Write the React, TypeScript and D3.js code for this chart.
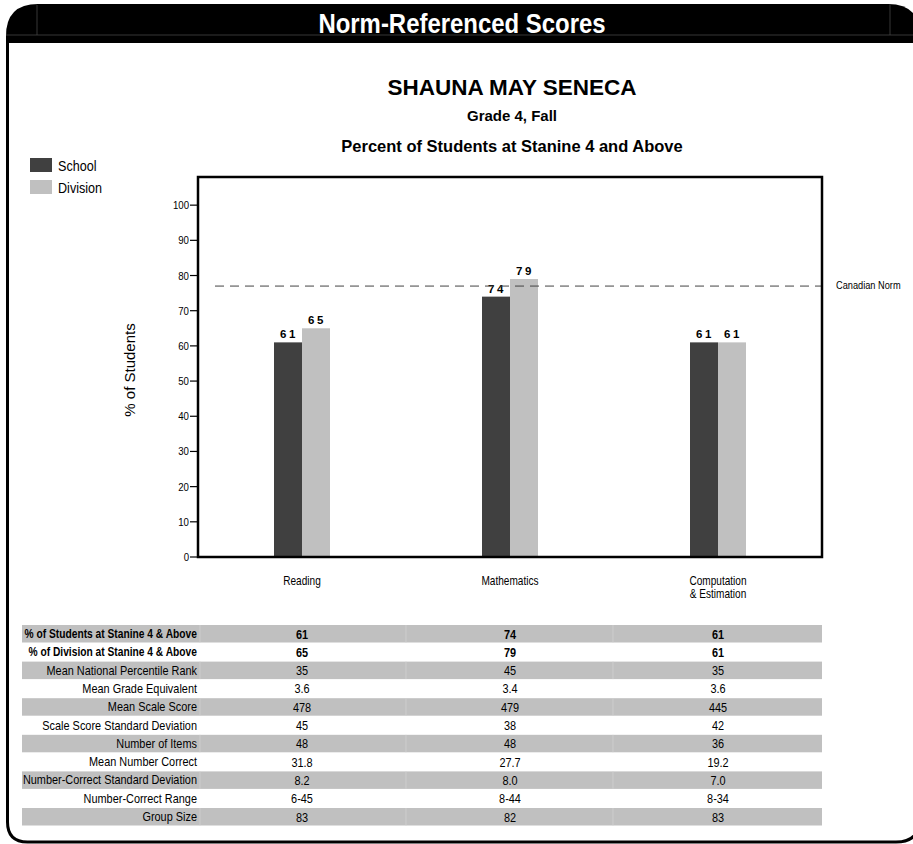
import React from "react";
import * as d3 from "d3";

const categories = ["Reading", "Mathematics", "Computation|& Estimation"];
const seriesNames = ["School", "Division"];
const schoolValues = [61, 74, 61];
const divisionValues = [65, 79, 61];
const canadianNorm = 77;
const yTicks = [0, 10, 20, 30, 40, 50, 60, 70, 80, 90, 100];

const rowLabels = [
  "% of Students at Stanine 4 & Above",
  "% of Division at Stanine 4 & Above",
  "Mean National Percentile Rank",
  "Mean Grade Equivalent",
  "Mean Scale Score",
  "Scale Score Standard Deviation",
  "Number of Items",
  "Mean Number Correct",
  "Number-Correct Standard Deviation",
  "Number-Correct Range",
  "Group Size",
];
const readingColumn = ["61", "65", "35", "3.6", "478", "45", "48", "31.8", "8.2", "6-45", "83"];
const mathColumn = ["74", "79", "45", "3.4", "479", "38", "48", "27.7", "8.0", "8-44", "82"];
const computationColumn = ["61", "61", "35", "3.6", "445", "42", "36", "19.2", "7.0", "8-34", "83"];

const W = 913;
const H = 844;
const SANS = "'Liberation Sans', Arial, sans-serif";
const DARK = "#404040";
const LIGHT = "#c0c0c0";
const NARROW_SCALE = 0.84;

function NarrowText(props: {
  x: number; y: number; size: number; anchor?: string; bold?: boolean; fill?: string; children: React.ReactNode;
}) {
  return (
    <text
      transform={`translate(${props.x},${props.y}) scale(${NARROW_SCALE},1)`}
      textAnchor={props.anchor || "start"}
      fontFamily={SANS}
      fontSize={props.size}
      fontWeight={props.bold ? "bold" : "normal"}
      fill={props.fill || "#000"}
    >
      {props.children}
    </text>
  );
}

export default function App() {
  const plot = { left: 198, right: 822, top: 177, bottom: 557 };
  const x = d3.scaleBand<number>().domain(d3.range(categories.length)).range([plot.left, plot.right]);
  const y = d3.scaleLinear().domain([0, 108]).range([plot.bottom, plot.top]);
  const barW = 28;
  const series = [schoolValues, divisionValues];
  const colors = [DARK, LIGHT];
  const columns = [readingColumn, mathColumn, computationColumn];

  const rowTop = 625;
  const rowH = 18.3;

  const frame = `M 7.5 40 L 7.5 822 Q 7.5 842 27.5 842 L 896 842 Q 920 842 920 818`;
  const header = `M 6 43 L 6 36 Q 6 4 38 4 L 888 4 Q 920 4 920 36 L 920 43 Z`;

  return (
    <svg width={W} height={H} style={{ position: "absolute", left: 0, top: 0, background: "#fff" }}>
      {/* frame */}
      <path d={header} fill="#000" />
      <line x1={6} x2={913} y1={35} y2={35} stroke="#444" strokeWidth={0.8} />
      <line x1={37} x2={37} y1={5} y2={35} stroke="#444" strokeWidth={0.8} />
      <line x1={890} x2={890} y1={5} y2={35} stroke="#444" strokeWidth={0.8} />
      <path d={frame} fill="none" stroke="#000" strokeWidth={3} />
      <NarrowText x={462} y={33} size={28.5} anchor="middle" bold fill="#fff">Norm-Referenced Scores</NarrowText>

      {/* titles */}
      <text x={512} y={95} textAnchor="middle" fontFamily={SANS} fontWeight="bold" fontSize={22.5}>SHAUNA MAY SENECA</text>
      <text x={512} y={121} textAnchor="middle" fontFamily={SANS} fontWeight="bold" fontSize={15}>Grade 4, Fall</text>
      <text x={512} y={152} textAnchor="middle" fontFamily={SANS} fontWeight="bold" fontSize={16.5}>Percent of Students at Stanine 4 and Above</text>

      {/* legend */}
      {seriesNames.map((s, i) => (
        <g key={s}>
          <rect x={30} y={158 + i * 22} width={22} height={14} fill={colors[i]} />
          <NarrowText x={58} y={171 + i * 22} size={15}>{s}</NarrowText>
        </g>
      ))}

      {/* y axis label */}
      <text transform={`translate(135,370) rotate(-90)`} textAnchor="middle" fontFamily={SANS} fontSize={15}>% of Students</text>

      {/* ticks */}
      {yTicks.map((t) => (
        <g key={t}>
          <line x1={plot.left - 8} x2={plot.left} y1={y(t)} y2={y(t)} stroke="#000" strokeWidth={1.2} />
          <NarrowText x={plot.left - 9} y={y(t) + 4} size={11.5} anchor="end">{t}</NarrowText>
        </g>
      ))}

      {/* bars */}
      {categories.map((c, ci) => {
        const cx = (x(ci) as number) + x.bandwidth() / 2;
        return (
          <g key={c}>
            {series.map((vals, si) => {
              const bx = cx - barW + si * barW;
              return (
                <g key={si}>
                  <rect x={bx} y={y(vals[ci])} width={barW} height={plot.bottom - y(vals[ci])} fill={colors[si]} />
                  <text x={bx + barW / 2 + 1} y={y(vals[ci]) - 4} textAnchor="middle" fontFamily={SANS} fontWeight="bold" fontSize={11.5} letterSpacing={2.5}>
                    {vals[ci]}
                  </text>
                </g>
              );
            })}
            {c.split("|").map((ln, li) => (
              <NarrowText key={li} x={cx} y={585 + li * 12.5} size={12} anchor="middle">{ln}</NarrowText>
            ))}
          </g>
        );
      })}

      {/* canadian norm */}
      <line x1={215} x2={plot.right} y1={y(canadianNorm)} y2={y(canadianNorm)} stroke="#444" strokeWidth={1} strokeDasharray="9,6" />
      <NarrowText x={836} y={y(canadianNorm) + 3} size={11}>Canadian Norm</NarrowText>

      {/* plot box */}
      <rect x={plot.left} y={plot.top} width={plot.right - plot.left} height={plot.bottom - plot.top} fill="none" stroke="#000" strokeWidth={2.5} />

      {/* table */}
      {rowLabels.map((lab, ri) => {
        const ty = rowTop + ri * rowH;
        const bold = ri < 2;
        return (
          <g key={lab}>
            {ri % 2 === 0 && (
              <g>
                <rect x={22} y={ty} width={800} height={rowH - 0.8} fill={LIGHT} />
                {[200, 406, 613].map((sx) => (
                  <line key={sx} x1={sx} x2={sx} y1={ty} y2={ty + rowH - 0.8} stroke="#d0d0d0" strokeWidth={0.8} />
                ))}
              </g>
            )}
            <NarrowText x={197} y={ty + 13} size={bold ? 12.2 : 13} anchor="end" bold={bold}>{lab}</NarrowText>
            {columns.map((col, ci) => (
              <NarrowText key={ci} x={(x(ci) as number) + x.bandwidth() / 2} y={ty + 13.5} size={13} anchor="middle" bold={bold}>
                {col[ri]}
              </NarrowText>
            ))}
          </g>
        );
      })}
    </svg>
  );
}
